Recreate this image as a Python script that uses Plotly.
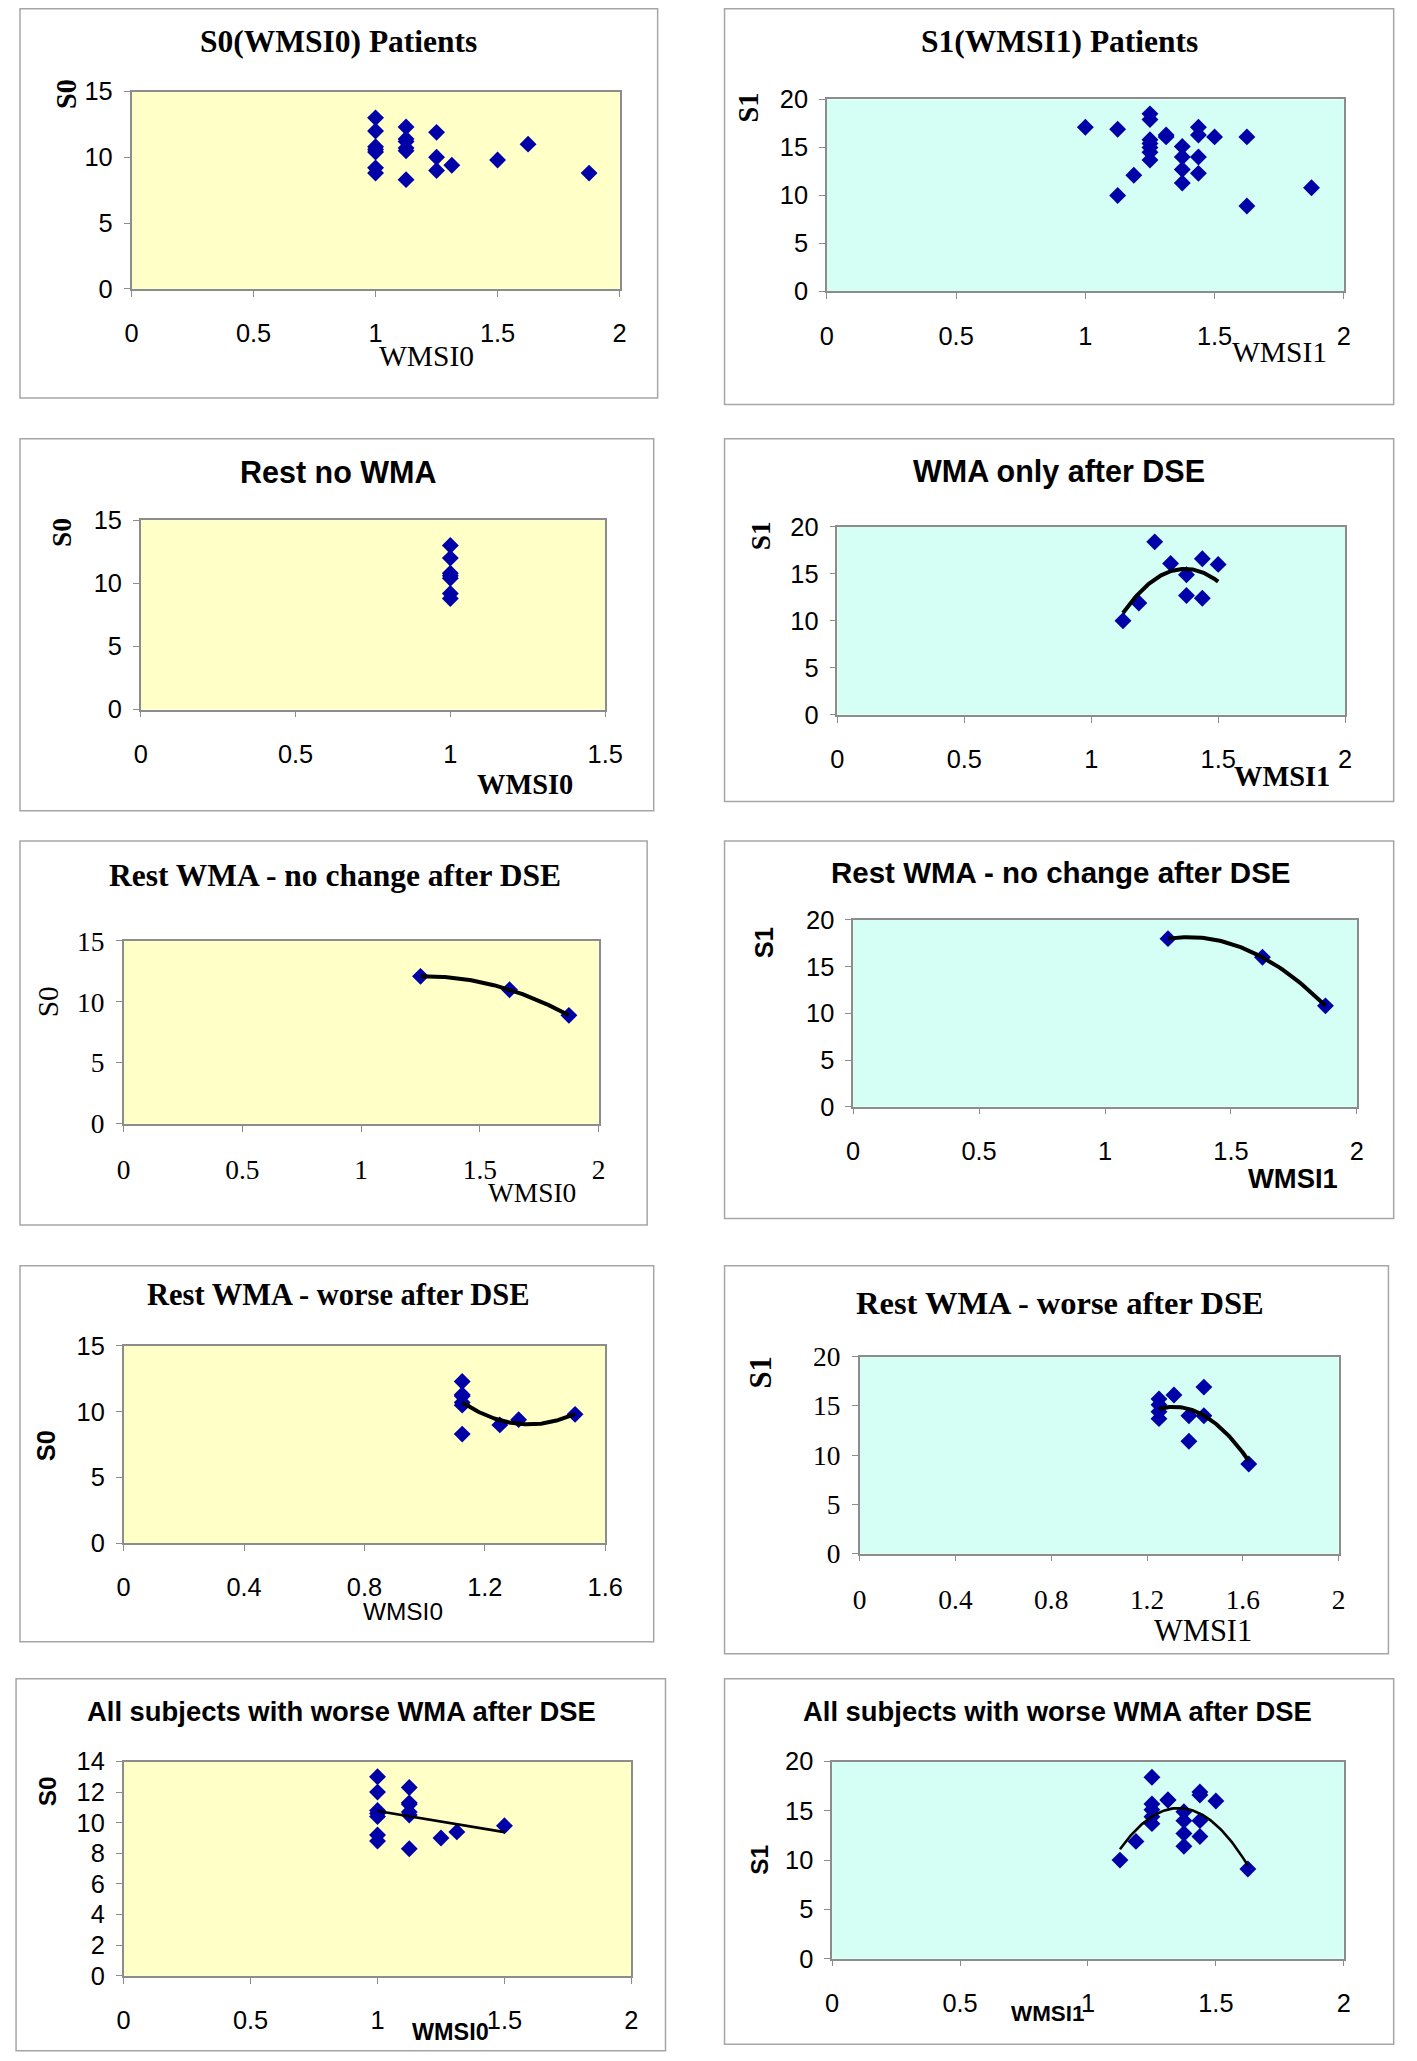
import numpy as np
import plotly.graph_objects as go

# ---------------- data ----------------
# Panel 1: S0 vs WMSI0, all patients
p1_wmsi0 = [1.0, 1.0, 1.0, 1.0, 1.0, 1.0, 1.0,
            1.125, 1.125, 1.125, 1.125, 1.125, 1.125,
            1.25, 1.25, 1.25, 1.3125, 1.5, 1.625, 1.875]
p1_s0 = [13.0, 12.0, 10.8, 10.6, 10.4, 9.2, 8.8,
         12.3, 11.4, 11.2, 10.7, 10.5, 8.3,
         11.9, 10.0, 9.0, 9.4, 9.8, 11.0, 8.8]

# Panel 2: S1 vs WMSI1, all patients
p2_wmsi1 = [1.0, 1.125, 1.125, 1.1875,
            1.25, 1.25, 1.25, 1.25, 1.25, 1.25, 1.25,
            1.3125, 1.3125,
            1.375, 1.375, 1.375, 1.375,
            1.4375, 1.4375, 1.4375, 1.4375,
            1.5, 1.625, 1.625, 1.875]
p2_s1 = [17.1, 16.9, 10.0, 12.1,
         18.5, 17.9, 15.8, 15.4, 15.0, 14.5, 13.7,
         16.3, 16.1,
         15.1, 14.0, 12.7, 11.3,
         17.1, 16.3, 14.0, 12.3,
         16.1, 16.1, 8.9, 10.8]

# Panel 3: Rest no WMA (S0 vs WMSI0)
p3_wmsi0 = [1.0, 1.0, 1.0, 1.0, 1.0, 1.0, 1.0]
p3_s0 = [13.0, 12.0, 10.8, 10.6, 10.4, 9.2, 8.8]

# Panel 4: WMA only after DSE (S1 vs WMSI1)
p4_wmsi1 = [1.125, 1.1875, 1.25, 1.3125, 1.375, 1.375, 1.4375, 1.4375, 1.5]
p4_s1 = [10.0, 11.9, 18.4, 16.1, 14.9, 12.7, 16.6, 12.4, 16.0]

# Panel 5: Rest WMA - no change after DSE (S0 vs WMSI0)
p5_wmsi0 = [1.25, 1.625, 1.875]
p5_s0 = [12.1, 11.0, 8.9]

# Panel 6: Rest WMA - no change after DSE (S1 vs WMSI1)
p6_wmsi1 = [1.25, 1.625, 1.875]
p6_s1 = [18.0, 16.0, 10.8]

# Panel 7: Rest WMA - worse after DSE (S0 vs WMSI0)
p7_wmsi0 = [1.125, 1.125, 1.125, 1.125, 1.125, 1.125, 1.25, 1.3125, 1.5]
p7_s0 = [12.3, 11.3, 11.2, 10.7, 10.5, 8.3, 9.0, 9.4, 9.8]

# Panel 8: Rest WMA - worse after DSE (S1 vs WMSI1)
p8_wmsi1 = [1.25, 1.25, 1.25, 1.25, 1.3125, 1.375, 1.375, 1.4375, 1.4375, 1.625]
p8_s1 = [15.7, 15.1, 14.4, 13.7, 16.1, 14.0, 11.4, 16.9, 14.0, 9.1]

# Panel 9 / 10: all subjects with worse WMA after DSE
p9_wmsi0 = p3_wmsi0 + p7_wmsi0
p9_s0 = p3_s0 + p7_s0
p10_wmsi1 = p4_wmsi1 + p8_wmsi1
p10_s1 = p4_s1 + p8_s1

# tick sets
ticks_x_05_2 = [0, 0.5, 1, 1.5, 2]
ticks_x_05_15 = [0, 0.5, 1, 1.5]
ticks_x_04_16 = [0, 0.4, 0.8, 1.2, 1.6]
ticks_x_04_2 = [0, 0.4, 0.8, 1.2, 1.6, 2]
ticks_y_15 = [0, 5, 10, 15]
ticks_y_20 = [0, 5, 10, 15, 20]
ticks_y_14 = [0, 2, 4, 6, 8, 10, 12, 14]

titles = ["S0(WMSI0) Patients", "S1(WMSI1) Patients", "Rest no WMA",
          "WMA only after DSE", "Rest WMA - no change after DSE",
          "Rest WMA - no change after DSE", "Rest WMA - worse after DSE",
          "Rest WMA - worse after DSE", "All subjects with worse WMA after DSE",
          "All subjects with worse WMA after DSE"]

# ---------------- layout helpers ----------------
PAGE_W, PAGE_H = 1417, 2061
BODY = 8  # default page margin around the plot div
W, H = PAGE_W - 2 * BODY, PAGE_H - 2 * BODY
S = 1417 / 1078.0
# empirical correction of the captured picture (slight shrink + offset)
KX, CX = 0.984, 5.2
KY, CY = 0.985, 11.1
FS = 1.016  # font compensation for the same shrink


def fx(v):
    v = (v - CX) / KX
    return (v * S - BODY) / W


def fy(v):
    v = (v - CY) / KY
    return 1 - (v * S - BODY) / H


SERIF = "Liberation Serif, Times New Roman, serif"
SANS = "Liberation Sans, Arial, sans-serif"
YELLOW = "#FFFFC8"
CYAN = "#D5FFF5"
MARK = "#0000A8"

panels = [
    dict(x=p1_wmsi0, y=p1_s0, deg=0, box=(15, 7, 501, 303), plot=(100, 70, 472, 220), bg=YELLOW,
         xr=2, xt=ticks_x_05_2, yr=15, yt=ticks_y_15, tpos=(258, 32), tfont=(SERIF, 31),
         ylab=("S0", 50, 72, SERIF, True, 28), xlab=("WMSI0", 325, 271, SERIF, False, 29), tick=SANS),
    dict(x=p2_wmsi1, y=p2_s1, deg=0, box=(552, 7, 1062, 308), plot=(630, 76, 1024, 222), bg=CYAN,
         xr=2, xt=ticks_x_05_2, yr=20, yt=ticks_y_20, tpos=(807, 32), tfont=(SERIF, 31),
         ylab=("S1", 570, 82, SERIF, True, 28), xlab=("WMSI1", 975, 268, SERIF, False, 29), tick=SANS),
    dict(x=p3_wmsi0, y=p3_s0, deg=0, box=(15, 334, 498, 617), plot=(107, 396, 461, 540), bg=YELLOW,
         xr=1.5, xt=ticks_x_05_15, yr=15, yt=ticks_y_15, tpos=(258, 359), tfont=(SANS, 30),
         ylab=("S0", 47, 405, SERIF, True, 27), xlab=("WMSI0", 400, 597, SERIF, True, 28), tick=SANS),
    dict(x=p4_wmsi1, y=p4_s1, deg=2, box=(552, 334, 1062, 610), plot=(638, 401, 1025, 544), bg=CYAN,
         xr=2, xt=ticks_x_05_2, yr=20, yt=ticks_y_20, tpos=(807, 359), tfont=(SANS, 30),
         ylab=("S1", 580, 408, SERIF, True, 27), xlab=("WMSI1", 977, 591, SERIF, True, 28), tick=SANS),
    dict(x=p5_wmsi0, y=p5_s0, deg=2, box=(15, 640, 493, 932), plot=(94, 716, 456, 855), bg=YELLOW,
         xr=2, xt=ticks_x_05_2, yr=15, yt=ticks_y_15, tpos=(255, 666), tfont=(SERIF, 31),
         ylab=("S0", 37, 762, SERIF, False, 29), xlab=("WMSI0", 405, 908, SERIF, False, 27), tick=SERIF),
    dict(x=p6_wmsi1, y=p6_s1, deg=2, box=(552, 640, 1062, 927), plot=(650, 700, 1034, 842), bg=CYAN,
         xr=2, xt=ticks_x_05_2, yr=20, yt=ticks_y_20, tpos=(808, 664), tfont=(SANS, 29),
         ylab=("S1", 582, 717, SANS, True, 25), xlab=("WMSI1", 985, 897, SANS, True, 27), tick=SANS),
    dict(x=p7_wmsi0, y=p7_s0, deg=2, box=(15, 963, 498, 1249), plot=(94, 1024, 461, 1174), bg=YELLOW,
         xr=1.6, xt=ticks_x_04_16, yr=15, yt=ticks_y_15, tpos=(258, 985), tfont=(SERIF, 30),
         ylab=("S0", 35, 1100, SANS, True, 25), xlab=("WMSI0", 307, 1226, SANS, False, 24), tick=SANS),
    dict(x=p8_wmsi1, y=p8_s1, deg=2, box=(552, 963, 1058, 1258), plot=(655, 1032, 1020, 1182), bg=CYAN,
         xr=2, xt=ticks_x_04_2, yr=20, yt=ticks_y_20, tpos=(808, 991), tfont=(SERIF, 32),
         ylab=("S1", 580, 1044, SERIF, True, 30), xlab=("WMSI1", 917, 1241, SERIF, False, 30), tick=SERIF),
    dict(x=p9_wmsi0, y=p9_s0, deg=1, box=(12, 1277, 507, 1560), plot=(94, 1340, 481, 1503), bg=YELLOW,
         xr=2, xt=ticks_x_05_2, yr=14, yt=ticks_y_14, tpos=(260, 1302), tfont=(SANS, 27),
         ylab=("S0", 36, 1363, SANS, True, 24), xlab=("WMSI0", 343, 1546, SANS, True, 23), tick=SANS),
    dict(x=p10_wmsi1, y=p10_s1, deg=2, box=(552, 1277, 1062, 1555), plot=(634, 1340, 1024, 1490), bg=CYAN,
         xr=2, xt=ticks_x_05_2, yr=20, yt=ticks_y_20, tpos=(806, 1302), tfont=(SANS, 27),
         ylab=("S1", 578, 1415, SANS, True, 24), xlab=("WMSI1", 798, 1532, SANS, True, 22), tick=SANS),
]


def fmt(v):
    return ("%g" % v)


def fsz(v):
    return round(v * FS, 1)


fig = go.Figure()
annotations = []
shapes = []

for i, p in enumerate(panels, start=1):
    xa = "x" if i == 1 else "x%d" % i
    ya = "y" if i == 1 else "y%d" % i
    fig.add_trace(go.Scatter(x=p["x"], y=p["y"], mode="markers", xaxis=xa, yaxis=ya,
                             marker=dict(symbol="diamond", size=13, color=MARK, line=dict(width=0)),
                             showlegend=False, hoverinfo="x+y"))
    if p["deg"]:
        coef = np.polyfit(p["x"], p["y"], p["deg"])
        xs = np.linspace(min(p["x"]), max(p["x"]), 80)
        ys = np.polyval(coef, xs)
        lw = 4 if i <= 8 else 2.6
        fig.add_trace(go.Scatter(x=xs, y=ys, mode="lines", xaxis=xa, yaxis=ya,
                                 line=dict(color="black", width=lw), showlegend=False,
                                 hoverinfo="skip"))
    x0, y0, x1, y1 = p["plot"]
    tickfont = dict(family=p["tick"], size=fsz(27 if p["tick"] == SERIF else 25), color="black")
    axcommon = dict(showgrid=False, zeroline=False, showline=True, mirror=True,
                    linecolor="#8C8C8C", linewidth=1.5, ticks="outside", ticklen=6,
                    tickcolor="#8C8C8C", tickwidth=1.2, tickfont=tickfont, fixedrange=True)
    fig.layout["xaxis" + ("" if i == 1 else str(i))] = dict(
        domain=[fx(x0), fx(x1)], anchor=ya, range=[0, p["xr"]],
        tickmode="array", tickvals=p["xt"], ticktext=[fmt(v) for v in p["xt"]],
        ticklabelstandoff=15, **axcommon)
    fig.layout["yaxis" + ("" if i == 1 else str(i))] = dict(
        domain=[fy(y1), fy(y0)], anchor=xa, range=[0, p["yr"]],
        tickmode="array", tickvals=p["yt"], ticktext=[fmt(v) for v in p["yt"]],
        ticklabelstandoff=6, **axcommon)
    # plot-area background
    shapes.append(dict(type="rect", xref="paper", yref="paper", layer="below",
                       x0=fx(x0), x1=fx(x1), y0=fy(y1), y1=fy(y0),
                       fillcolor=p["bg"], line=dict(width=0)))
    # outer panel border
    bx0, by0, bx1, by1 = p["box"]
    shapes.append(dict(type="rect", xref="paper", yref="paper", layer="below",
                       x0=fx(bx0), x1=fx(bx1), y0=fy(by1), y1=fy(by0),
                       fillcolor="rgba(0,0,0,0)", line=dict(color="#A6A6A6", width=1.5)))
    # title
    tx, ty = p["tpos"]
    annotations.append(dict(text="<b>%s</b>" % titles[i - 1], x=fx(tx), y=fy(ty), xref="paper",
                            yref="paper", showarrow=False, xanchor="center", yanchor="middle",
                            font=dict(family=p["tfont"][0], size=fsz(p["tfont"][1]), color="black")))
    # axis titles
    lt, lx, ly, lf, lb, ls = p["ylab"]
    annotations.append(dict(text=("<b>%s</b>" % lt) if lb else lt, x=fx(lx), y=fy(ly), xref="paper",
                            yref="paper", showarrow=False, textangle=-90, xanchor="center",
                            yanchor="middle", font=dict(family=lf, size=fsz(ls), color="black")))
    lt, lx, ly, lf, lb, ls = p["xlab"]
    annotations.append(dict(text=("<b>%s</b>" % lt) if lb else lt, x=fx(lx), y=fy(ly), xref="paper",
                            yref="paper", showarrow=False, xanchor="center",
                            yanchor="middle", font=dict(family=lf, size=fsz(ls), color="black")))

fig.update_layout(width=W, height=H, autosize=False, margin=dict(l=0, r=0, t=0, b=0),
                  paper_bgcolor="white", plot_bgcolor="rgba(0,0,0,0)",
                  shapes=shapes, annotations=annotations, showlegend=False)

fig.write_html("out.html")
